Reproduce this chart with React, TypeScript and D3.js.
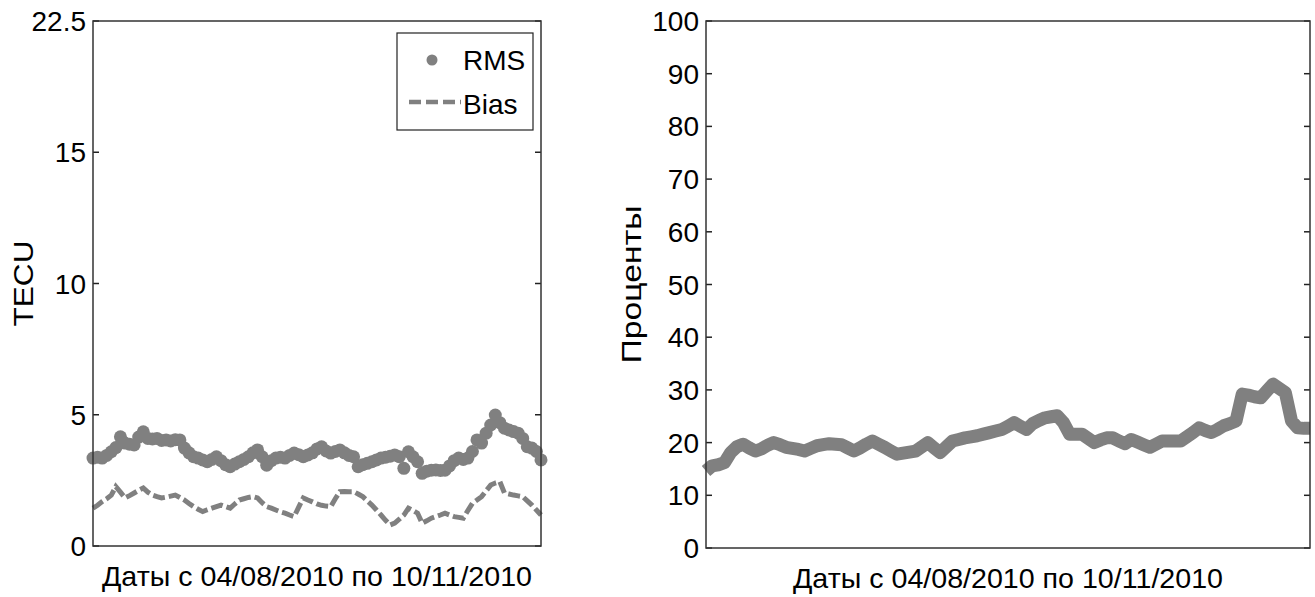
import { useRef, useEffect } from 'react';
import * as d3 from 'd3';

// daily values, 04/08/2010 .. 10/11/2010 (99 days)
const rms = [
  3.35, 3.38, 3.35, 3.45, 3.59, 3.75, 4.16, 3.92, 3.88, 3.85,
  4.15, 4.35, 4.1, 4.08, 4.1, 4.02, 4.04, 4.0, 4.05, 4.04,
  3.73, 3.55, 3.4, 3.35, 3.28, 3.21, 3.3, 3.4, 3.25, 3.1,
  3.02, 3.12, 3.21, 3.3, 3.4, 3.55, 3.66, 3.4, 3.08, 3.25,
  3.35, 3.38, 3.35, 3.45, 3.54, 3.48, 3.4, 3.47, 3.55, 3.7,
  3.78, 3.62, 3.54, 3.6, 3.66, 3.55, 3.45, 3.4, 3.02, 3.1,
  3.15, 3.21, 3.28, 3.35, 3.38, 3.42, 3.47, 3.4, 2.96, 3.59,
  3.4, 3.21, 2.77, 2.85, 2.89, 2.9, 2.88, 2.89, 3.05, 3.25,
  3.35, 3.3, 3.35, 3.6, 4.04, 3.92, 4.3, 4.61, 4.99, 4.7,
  4.49, 4.42, 4.36, 4.3, 4.1, 3.78, 3.73, 3.6, 3.28,
];

const bias = [
  1.44, 1.55, 1.69, 1.8, 1.94, 2.26, 2.05, 1.83, 1.92, 2.02,
  2.12, 2.21, 2.05, 1.94, 1.88, 1.83, 1.86, 1.9, 1.94, 1.85,
  1.75, 1.62, 1.5, 1.4, 1.31, 1.38, 1.44, 1.5, 1.56, 1.5,
  1.44, 1.6, 1.75, 1.8, 1.85, 1.88, 1.83, 1.65, 1.5, 1.44,
  1.37, 1.3, 1.25, 1.18, 1.12, 1.48, 1.83, 1.75, 1.68, 1.6,
  1.55, 1.52, 1.5, 1.8, 2.07, 2.08, 2.07, 2.07, 1.98, 1.88,
  1.72, 1.56, 1.37, 1.18, 0.98, 0.8, 0.87, 1.02, 1.18, 1.44,
  1.35, 1.25, 0.87, 0.96, 1.06, 1.12, 1.18, 1.25, 1.18, 1.12,
  1.09, 1.06, 1.35, 1.63, 1.75, 1.88, 2.1, 2.32, 2.4, 2.45,
  2.02, 1.98, 1.94, 1.91, 1.88, 1.72, 1.56, 1.37, 1.18,
];

const percent = [
  14.6, 15.6, 15.8, 16.2, 18.1, 19.2, 19.7, 19.0, 18.4, 18.8,
  19.5, 20.0, 19.6, 19.1, 18.9, 18.7, 18.4, 18.9, 19.4, 19.6,
  19.8, 19.7, 19.6, 19.0, 18.4, 19.0, 19.7, 20.3, 19.7, 19.1,
  18.4, 17.8, 18.0, 18.2, 18.4, 19.2, 20.0, 19.0, 18.1, 19.2,
  20.3, 20.6, 20.9, 21.1, 21.3, 21.6, 21.9, 22.2, 22.5, 23.1,
  23.8, 23.1, 22.5, 23.6, 24.2, 24.7, 24.9, 25.1, 23.8, 21.6,
  21.6, 21.6, 20.8, 20.0, 20.5, 20.9, 20.9, 20.3, 19.8, 20.6,
  20.1, 19.6, 19.1, 19.7, 20.3, 20.3, 20.3, 20.3, 21.1, 21.9,
  22.8, 22.3, 21.9, 22.5, 23.2, 23.6, 24.1, 29.2, 29.0, 28.7,
  28.5, 29.8, 31.1, 30.3, 29.5, 24.1, 22.8, 22.7, 22.7,
];

const leftTicks = [0, 5, 10, 15, 20];
const leftTickLabels = ['0', '5', '10', '15', '22.5'];
const rightTicks = [0, 10, 20, 30, 40, 50, 60, 70, 80, 90, 100];
const xLabel = 'Даты с 04/08/2010 по 10/11/2010';

export default function App() {
  const ref = useRef(null);

  useEffect(() => {
    const el = ref.current;
    el.innerHTML = '';
    const W = 1315;
    const H = 597;
    const grey = '#808080';
    const font = '"Liberation Sans", Arial, Helvetica, sans-serif';

    const svg = d3
      .select(el)
      .append('svg')
      .attr('width', W)
      .attr('height', H)
      .style('position', 'absolute')
      .style('left', 0)
      .style('top', 0)
      .style('background', '#fff');

    const panel = (L, R, T, B, domain, ticks, labels, yTitle, titleX, titleLen) => {
      const x = d3.scaleLinear().domain([0, 98]).range([L, R]);
      const y = d3.scaleLinear().domain(domain).range([B, T]);
      const g = svg.append('g');
      // ticks inside the box, on both sides
      ticks.forEach((t, i) => {
        g.append('line').attr('x1', L).attr('x2', L + 6).attr('y1', y(t)).attr('y2', y(t))
          .attr('stroke', '#222').attr('stroke-width', 1.5);
        g.append('line').attr('x1', R - 6).attr('x2', R).attr('y1', y(t)).attr('y2', y(t))
          .attr('stroke', '#222').attr('stroke-width', 1.5);
        g.append('text')
          .attr('x', L - 7)
          .attr('y', y(t) + 10)
          .attr('text-anchor', 'end')
          .style('font-family', font)
          .style('font-size', '28px')
          .text(labels[i]);
      });
      g.append('text')
        .attr('transform', `translate(${titleX},${(T + B) / 2}) rotate(-90)`)
        .attr('text-anchor', 'middle')
        .attr('textLength', titleLen)
        .attr('lengthAdjust', 'spacingAndGlyphs')
        .style('font-family', font)
        .style('font-size', '28px')
        .text(yTitle);
      g.append('text')
        .attr('x', (L + R) / 2)
        .attr('y', B + 40)
        .attr('text-anchor', 'middle')
        .attr('textLength', 430)
        .attr('lengthAdjust', 'spacingAndGlyphs')
        .style('font-family', font)
        .style('font-size', '28px')
        .text(xLabel);
      return { x, y, g };
    };

    // left: RMS / Bias
    const a = panel(93, 541, 21, 546, [0, 20], leftTicks, leftTickLabels, 'TECU', 33, 86);
    a.g.append('path')
      .datum(bias)
      .attr('d', d3.line().x((d, i) => a.x(i)).y((d) => a.y(d)))
      .attr('fill', 'none')
      .attr('stroke', grey)
      .attr('stroke-width', 5)
      .attr('stroke-dasharray', '12,4');
    a.g.selectAll('circle.rms')
      .data(rms)
      .enter()
      .append('circle')
      .attr('class', 'rms')
      .attr('cx', (d, i) => a.x(i))
      .attr('cy', (d) => a.y(d))
      .attr('r', 6.5)
      .attr('fill', grey);
    a.g.append('rect')
      .attr('x', 93).attr('y', 21).attr('width', 448).attr('height', 525)
      .attr('fill', 'none').attr('stroke', '#333').attr('stroke-width', 1.5);

    // legend
    const lg = a.g.append('g');
    lg.append('rect').attr('x', 397).attr('y', 33).attr('width', 136).attr('height', 97)
      .attr('fill', '#fff').attr('stroke', '#222').attr('stroke-width', 1.2);
    lg.append('circle').attr('cx', 432).attr('cy', 60).attr('r', 5.5).attr('fill', grey);
    lg.append('text').attr('x', 463).attr('y', 70).style('font-family', font).style('font-size', '28px').text('RMS');
    lg.append('line').attr('x1', 409).attr('x2', 461).attr('y1', 102).attr('y2', 102)
      .attr('stroke', grey).attr('stroke-width', 4.5).attr('stroke-dasharray', '12,5');
    lg.append('text').attr('x', 463).attr('y', 114).style('font-family', font).style('font-size', '28px').text('Bias');

    // right: percent
    const b = panel(706, 1310, 21, 548, [0, 100], rightTicks, rightTicks.map(String), 'Проценты', 641, 158);
    b.g.append('path')
      .datum(percent)
      .attr('d', d3.line().x((d, i) => b.x(i)).y((d) => b.y(d)))
      .attr('fill', 'none')
      .attr('stroke', grey)
      .attr('stroke-width', 13)
      .attr('stroke-linejoin', 'round');
    b.g.append('rect')
      .attr('x', 706).attr('y', 21).attr('width', 604).attr('height', 527)
      .attr('fill', 'none').attr('stroke', '#333').attr('stroke-width', 1.5);
  }, []);

  return <div ref={ref} />;
}
